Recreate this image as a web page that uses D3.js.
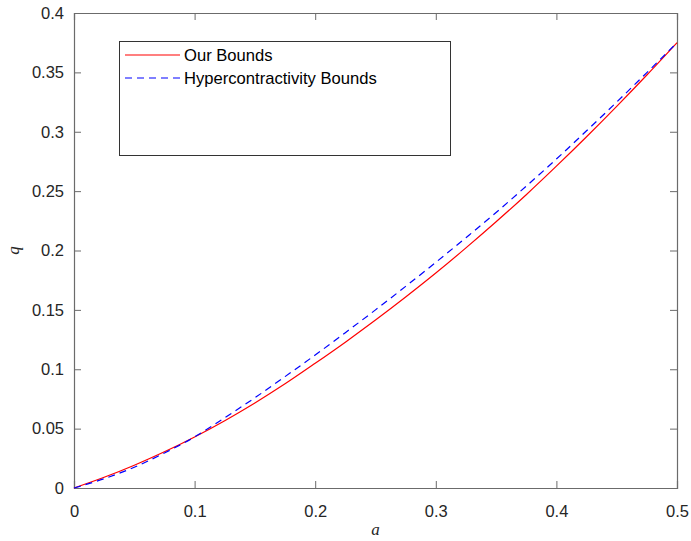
<!DOCTYPE html>
<html>
<head>
<script src="https://cdn.jsdelivr.net/npm/d3@7/dist/d3.min.js"></script>
<style>
  body { margin: 0; background: #fff; }
  .tick text { font-family: "Liberation Sans", Arial, sans-serif; font-size: 16.5px; fill: #262626; }
  .legend text { font-family: "Liberation Sans", Arial, sans-serif; font-size: 16.6px; fill: #000; }
  .lab { font-family: "Liberation Serif", "Times New Roman", serif; font-style: italic; font-size: 17px; fill: #262626; }
</style>
</head>
<body>
<svg id="chart" width="691" height="541"></svg>
<script>
// values
var aVals = [0, 0.025, 0.05, 0.075, 0.1, 0.125, 0.15, 0.175, 0.2, 0.225, 0.25,
             0.275, 0.3, 0.325, 0.35, 0.375, 0.4, 0.425, 0.45, 0.475, 0.5];
var ourBounds = [0, 0.009, 0.0192, 0.0305, 0.043, 0.0567, 0.0716, 0.0877, 0.105, 0.1228, 0.1414,
                 0.1608, 0.181, 0.2022, 0.2242, 0.247, 0.271, 0.2958, 0.3214, 0.3478, 0.375];
var hyperBounds = [0, 0.0078, 0.0175, 0.0295, 0.043, 0.0592, 0.076, 0.0938, 0.112, 0.1308, 0.150,
                   0.1698, 0.190, 0.2108, 0.232, 0.2542, 0.277, 0.3008, 0.325, 0.3498, 0.375];
var xTicks = [0, 0.1, 0.2, 0.3, 0.4, 0.5];
var yTicks = [0, 0.05, 0.1, 0.15, 0.2, 0.25, 0.3, 0.35, 0.4];
var seriesNames = ["Our Bounds", "Hypercontractivity Bounds"];

var plotL = 74, plotR = 677, plotT = 13, plotB = 488;
var svg = d3.select("#chart");

var x = d3.scaleLinear().domain([0, 0.5]).range([plotL, plotR]);
var y = d3.scaleLinear().domain([0, 0.4]).range([plotB, plotT]);
var axisColor = "#6b6b6b";

// axes, ticks inward, box on all sides
var gx = svg.append("g").attr("transform", "translate(0," + plotB + ")")
  .call(d3.axisBottom(x).tickValues(xTicks).tickSize(-7).tickPadding(17).tickFormat(d3.format("")));
var gy = svg.append("g").attr("transform", "translate(" + plotL + ",0)")
  .call(d3.axisLeft(y).tickValues(yTicks).tickSize(-7).tickPadding(10).tickFormat(d3.format("")));
var gt = svg.append("g").attr("transform", "translate(0," + plotT + ")")
  .call(d3.axisTop(x).tickValues(xTicks).tickSize(-7).tickFormat(""));
var gr = svg.append("g").attr("transform", "translate(" + plotR + ",0)")
  .call(d3.axisRight(y).tickValues(yTicks).tickSize(-7).tickFormat(""));
[gx, gy, gt, gr].forEach(function (g) {
  g.select(".domain").attr("stroke", axisColor).attr("stroke-width", 1.2);
  g.selectAll(".tick line").attr("stroke", axisColor);
});

var line = d3.line().x(function (d) { return x(d[0]); }).y(function (d) { return y(d[1]); })
  .curve(d3.curveMonotoneX);

svg.append("path").datum(d3.zip(aVals, ourBounds))
  .attr("fill", "none").attr("stroke", "#ff0000").attr("stroke-width", 1.2).attr("d", line);
svg.append("path").datum(d3.zip(aVals, hyperBounds))
  .attr("fill", "none").attr("stroke", "#0000ff").attr("stroke-width", 1.2)
  .attr("stroke-dasharray", "7,5").attr("d", line);

// axis labels
svg.append("text").attr("class", "lab").attr("x", (plotL + plotR) / 2).attr("y", 535)
  .attr("text-anchor", "middle").text("a");
svg.append("text").attr("class", "lab").attr("transform", "translate(19," + (plotT + plotB) / 2 + ") rotate(-90)")
  .attr("text-anchor", "middle").text("q");

// legend
var lg = svg.append("g").attr("class", "legend");
lg.append("rect").attr("x", 119.5).attr("y", 41.5).attr("width", 331).attr("height", 114)
  .attr("fill", "#fff").attr("stroke", "#333").attr("stroke-width", 1);
var styles = [{ c: "#ff0000", d: null }, { c: "#0000ff", d: "7,5" }];
seriesNames.forEach(function (name, i) {
  var yy = 55 + i * 23;
  lg.append("line").attr("x1", 125).attr("x2", 180).attr("y1", yy).attr("y2", yy)
    .attr("stroke", styles[i].c).attr("stroke-width", 1.2).attr("stroke-dasharray", styles[i].d);
  lg.append("text").attr("x", 184).attr("y", yy + 6).text(name);
});
</script>
</body>
</html>
